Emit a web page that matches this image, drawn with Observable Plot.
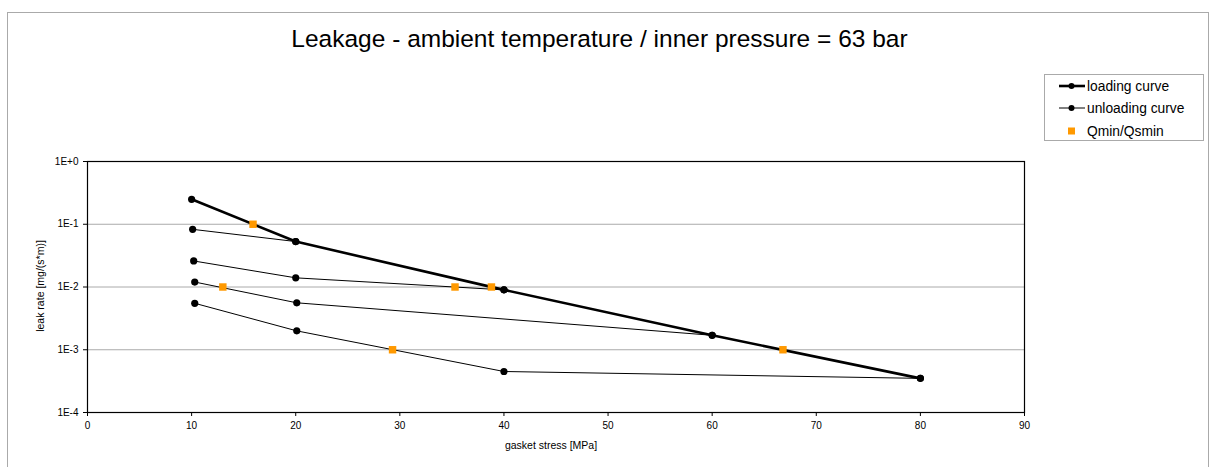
<!DOCTYPE html>
<html>
<head>
<meta charset="utf-8">
<script src="https://cdn.jsdelivr.net/npm/d3@7"></script>
<script src="https://cdn.jsdelivr.net/npm/@observablehq/plot@0.6"></script>
<style>
  html, body { margin: 0; padding: 0; background: #fff; }
  body { width: 1213px; height: 467px; position: relative; overflow: hidden; font-family: "Liberation Sans", Arial, sans-serif; }
  #border { position: absolute; left: 7px; top: 12px; width: 1202px; height: 470px; border: 1px solid #aaa; box-sizing: border-box; }
  #chart { position: absolute; left: 0; top: 0; }
  #title { position: absolute; left: 0; width: 1199px; top: 25px; text-align: center; font-size: 24.5px; color: #000; }
  #legend { position: absolute; left: 1044px; top: 74px; width: 160px; height: 67px; border: 1px solid #aaa; box-sizing: border-box; background: #fff; }
  #xlabel { position: absolute; left: 0; width: 1102px; top: 439px; text-align: center; font-size: 10.5px; }
  #ylabel { position: absolute; left: 40px; top: 286px; transform: translate(-50%, -50%) rotate(-90deg); font-size: 10.5px; white-space: nowrap; }
</style>
</head>
<body>
<div id="border"></div>
<div id="chart"></div>
<div id="title">Leakage - ambient temperature / inner pressure = 63 bar</div>
<div id="xlabel">gasket stress [MPa]</div>
<div id="ylabel">leak rate [mg/(s*m)]</div>
<div id="legend"></div>
<script>
// ---- data ----
const loadingX = [10, 20, 40, 60, 80];
const loadingY = [0.25, 0.053, 0.009, 0.0017, 0.00035];

const unloading1X = [20, 10.1];
const unloading1Y = [0.053, 0.083];
const unloading2X = [40, 20, 10.2];
const unloading2Y = [0.009, 0.014, 0.026];
const unloading3X = [60, 20.1, 10.3];
const unloading3Y = [0.0017, 0.0056, 0.012];
const unloading4X = [80, 40, 20.1, 10.3];
const unloading4Y = [0.00035, 0.00045, 0.002, 0.0055];

const qminX = [15.9, 13.0, 35.3, 38.8, 29.3, 66.8];
const qminY = [0.1, 0.01, 0.01, 0.01, 0.001, 0.001];

const xTicks = [0, 10, 20, 30, 40, 50, 60, 70, 80, 90];
const yTicks = [1e-4, 1e-3, 1e-2, 1e-1, 1];
const yTickLabels = ["1E-4", "1E-3", "1E-2", "1E-1", "1E+0"];
const gridY = [1e-3, 1e-2, 1e-1];

const legendLabels = ["loading curve", "unloading curve", "Qmin/Qsmin"];

// ---- build ----
const toPts = (xs, ys) => xs.map((x, i) => ({x, y: ys[i]}));
const loading = toPts(loadingX, loadingY);
const unloadings = [
  toPts(unloading1X, unloading1Y),
  toPts(unloading2X, unloading2Y),
  toPts(unloading3X, unloading3Y),
  toPts(unloading4X, unloading4Y)
];
const qmin = toPts(qminX, qminY);
const allDots = [loading, ...unloadings].flat();

const fmt = d => yTickLabels[yTicks.findIndex(t => Math.abs(Math.log10(t) - Math.log10(d)) < 1e-9)];

const chart = Plot.plot({
  width: 1213,
  height: 467,
  marginLeft: 87,
  marginRight: 189,
  marginTop: 161,
  marginBottom: 55,
  style: {fontFamily: "Liberation Sans, Arial, sans-serif", fontSize: "10px", background: "transparent", overflow: "visible"},
  x: {type: "linear", domain: [0, 90]},
  y: {type: "log", domain: [1e-4, 1]},
  marks: [
    Plot.ruleY(gridY, {stroke: "#aaa", strokeWidth: 1}),
    Plot.frame({stroke: "#000", strokeWidth: 1.2}),
    ...unloadings.map(u => Plot.line(u, {x: "x", y: "y", stroke: "#000", strokeWidth: 1})),
    Plot.line(loading, {x: "x", y: "y", stroke: "#000", strokeWidth: 2.6}),
    Plot.dot(allDots, {x: "x", y: "y", r: 3.6, fill: "#000"}),
    Plot.dot(qmin, {x: "x", y: "y", symbol: "square", r: 4.2, fill: "#FF9900"}),
    Plot.axisX({ticks: xTicks, tickSize: 4, tickPadding: 5, label: null, tickFormat: d => String(d)}),
    Plot.axisY({ticks: yTicks, tickSize: 4, tickPadding: 5, label: null, tickFormat: fmt})
  ]
});
document.getElementById("chart").appendChild(chart);

// ---- legend ----
const ns = "http://www.w3.org/2000/svg";
const lg = document.createElementNS(ns, "svg");
lg.setAttribute("width", 158);
lg.setAttribute("height", 65);
lg.style.position = "absolute";
lg.style.left = "0"; lg.style.top = "0";
const rows = [
  {y: 11, type: "line", w: 2.6},
  {y: 33, type: "line", w: 1},
  {y: 56, type: "square"}
];
rows.forEach((r, i) => {
  if (r.type === "line") {
    const l = document.createElementNS(ns, "line");
    l.setAttribute("x1", 14); l.setAttribute("x2", 40);
    l.setAttribute("y1", r.y); l.setAttribute("y2", r.y);
    l.setAttribute("stroke", "#000"); l.setAttribute("stroke-width", r.w);
    lg.appendChild(l);
    const c = document.createElementNS(ns, "circle");
    c.setAttribute("cx", 26.5); c.setAttribute("cy", r.y); c.setAttribute("r", 3);
    c.setAttribute("fill", "#000");
    lg.appendChild(c);
  } else {
    const s = document.createElementNS(ns, "rect");
    s.setAttribute("x", 23); s.setAttribute("y", r.y - 3.5);
    s.setAttribute("width", 7); s.setAttribute("height", 7);
    s.setAttribute("fill", "#FF9900");
    lg.appendChild(s);
  }
  const t = document.createElementNS(ns, "text");
  t.setAttribute("x", 42); t.setAttribute("y", r.y + 4.5);
  t.setAttribute("font-size", "13.8");
  t.setAttribute("font-family", "Liberation Sans, Arial, sans-serif");
  t.textContent = legendLabels[i];
  lg.appendChild(t);
});
document.getElementById("legend").appendChild(lg);
</script>
</body>
</html>
